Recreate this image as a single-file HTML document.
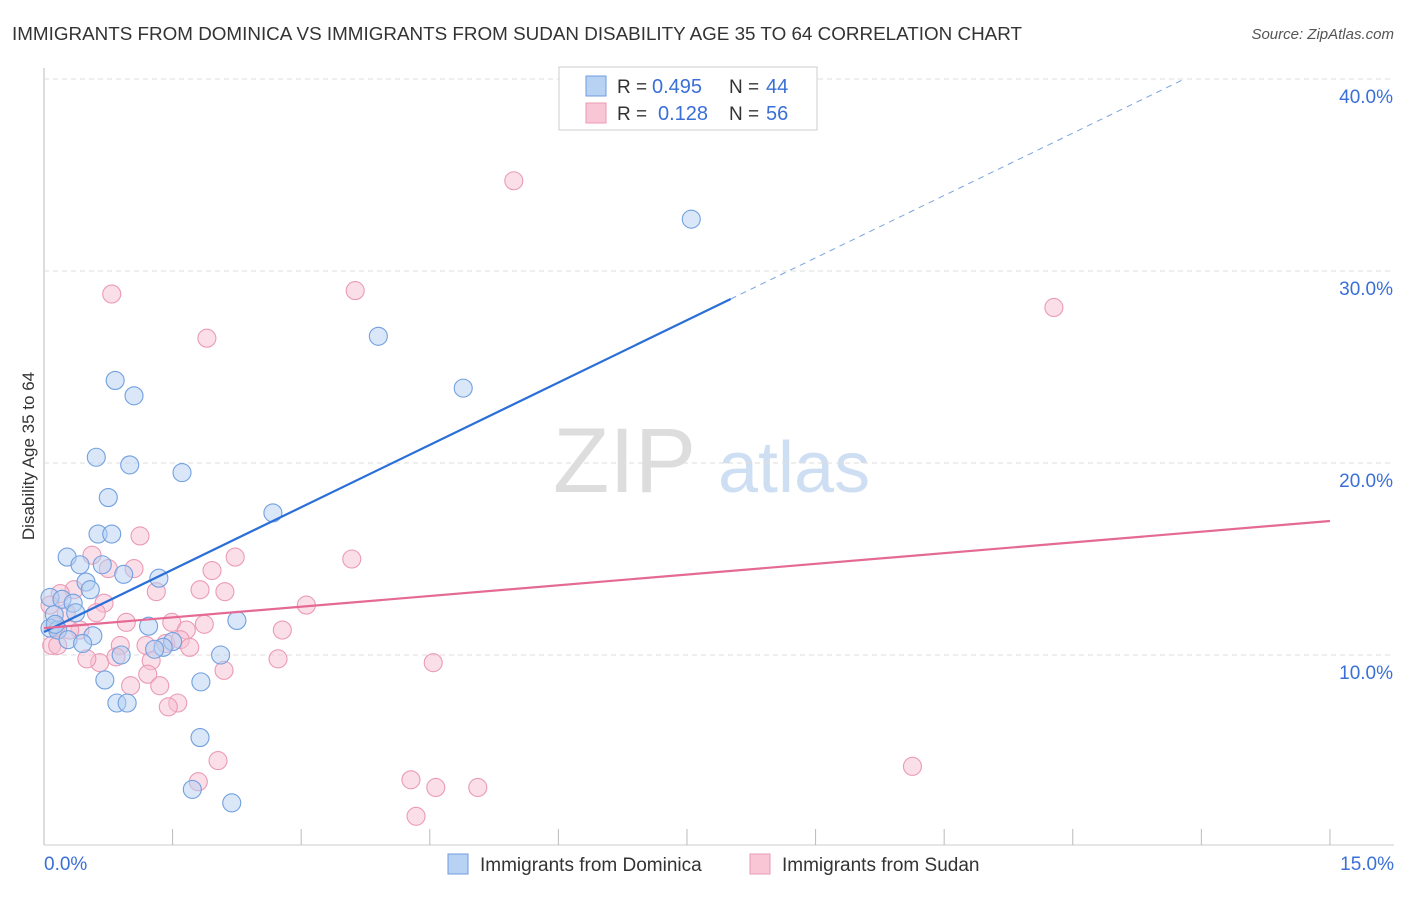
<!DOCTYPE html>
<html><head><meta charset="utf-8"><style>
body{margin:0;background:#fff;font-family:"Liberation Sans",sans-serif;}
svg text{font-family:"Liberation Sans",sans-serif;}
</style></head><body>
<svg id="c" width="1406" height="892" xmlns="http://www.w3.org/2000/svg">
<text x="12" y="40" font-size="18.5" fill="#333" textLength="1010" lengthAdjust="spacingAndGlyphs">IMMIGRANTS FROM DOMINICA VS IMMIGRANTS FROM SUDAN DISABILITY AGE 35 TO 64 CORRELATION CHART</text>
<text x="1394" y="39" font-size="15" fill="#555" font-style="italic" text-anchor="end">Source: ZipAtlas.com</text>
<text x="553" y="492" font-size="92" fill="#ddd" font-family="Liberation Serif">ZIP</text>
<text x="718" y="492" font-size="72" fill="#cfdff3">atlas</text>
<text transform="translate(34,456) rotate(-90)" font-size="17" fill="#333" text-anchor="middle">Disability Age 35 to 64</text>
<g id="grid"></g><g id="marks"></g>
<g>
<rect x="559" y="67" width="258" height="63" fill="#fff" stroke="#ccc"/>
<rect x="586" y="76" width="20" height="20" fill="#b8d2f3" stroke="#6f9ce0"/>
<rect x="586" y="103" width="20" height="20" fill="#f9c6d6" stroke="#e99ab4"/>
<text x="617" y="93" font-size="19" fill="#333">R =</text>
<text x="652" y="93" font-size="20" fill="#3a6fd8">0.495</text>
<text x="729" y="93" font-size="19" fill="#333">N =</text>
<text x="766" y="93" font-size="20" fill="#3a6fd8">44</text>
<text x="617" y="120" font-size="19" fill="#333">R =</text>
<text x="658" y="120" font-size="20" fill="#3a6fd8">0.128</text>
<text x="729" y="120" font-size="19" fill="#333">N =</text>
<text x="766" y="120" font-size="20" fill="#3a6fd8">56</text>
</g>
<g>
<rect x="448" y="854" width="20" height="20" fill="#b8d2f3" stroke="#6f9ce0"/>
<text x="480" y="871" font-size="19" fill="#333">Immigrants from Dominica</text>
<rect x="750" y="854" width="20" height="20" fill="#f9c6d6" stroke="#e99ab4"/>
<text x="782" y="871" font-size="19" fill="#333">Immigrants from Sudan</text>
</g>
<text x="44" y="870" font-size="19" fill="#3a6fd8">0.0%</text>
<text x="1394" y="870" font-size="19" fill="#3a6fd8" text-anchor="end">15.0%</text>
</svg>
<script>
const blueX=[7.55,3.90,4.89,0.83,1.05,0.61,1.00,1.61,0.75,2.67,0.63,0.79,0.27,0.42,0.68,0.93,1.34,0.49,0.54,0.07,0.21,0.34,0.37,0.12,2.25,1.22,0.07,0.16,0.57,0.28,0.45,1.50,1.39,1.29,0.90,2.06,0.71,1.83,0.85,0.97,1.82,1.73,2.19,0.13];
const blueY=[32.7,26.6,23.9,24.3,23.5,20.3,19.9,19.5,18.2,17.4,16.3,16.3,15.1,14.7,14.7,14.2,14.0,13.8,13.4,13.0,12.9,12.7,12.2,12.1,11.8,11.5,11.4,11.3,11.0,10.8,10.6,10.7,10.4,10.3,10.0,10.0,8.7,8.6,7.5,7.5,5.7,3.0,2.3,11.6];
const pinkX=[5.48,0.79,3.63,11.78,1.90,1.12,0.56,2.23,3.59,0.75,1.05,1.96,0.35,0.19,1.31,1.82,2.11,0.07,0.70,0.61,3.06,0.26,0.96,1.49,1.66,1.87,2.78,0.42,0.30,0.09,0.16,0.89,1.19,1.42,1.59,1.70,0.65,1.25,0.50,2.73,4.54,0.84,1.21,2.10,1.01,1.35,1.56,1.45,2.03,1.80,4.28,4.57,5.06,4.34,10.13,0.14];
const pinkY=[34.7,28.8,28.98,28.1,26.5,16.2,15.2,15.1,15.0,14.5,14.5,14.4,13.4,13.2,13.3,13.4,13.3,12.6,12.7,12.2,12.6,12.2,11.7,11.7,11.3,11.6,11.3,11.3,11.3,10.5,10.5,10.5,10.5,10.6,10.8,10.4,9.6,9.7,9.8,9.8,9.6,9.9,9.0,9.2,8.4,8.4,7.5,7.3,4.5,3.4,3.5,3.1,3.1,1.6,4.2,11.5];
const yTicks=[10,20,30,40];
const yTickLabels=["10.0%","20.0%","30.0%","40.0%"];
const xTicks=[0,1.5,3,4.5,6,7.5,9,10.5,12,13.5,15];
const blueFit=[11.2,2.165]; // intercept, slope
const blueFitSolidEnd=8.01;
const pinkFit=[11.4,0.372];
const NS='http://www.w3.org/2000/svg';
const X=v=>44+v*85.73, Y=v=>847-v*19.2;
function mk(t,a,p){const e=document.createElementNS(NS,t);for(const k in a)e.setAttribute(k,a[k]);p.appendChild(e);return e;}
const g=document.getElementById('grid'),m=document.getElementById('marks');
let ax=mk('line',{x1:44,y1:68,x2:44,y2:845,stroke:'#bbb'},g);


let bx=mk('line',{x1:44,y1:845,x2:1394,y2:845,stroke:'#ccc'},g);


yTicks.forEach((t,i)=>{
 let l=mk('line',{x1:44,y1:Y(t),x2:1394,y2:Y(t),stroke:'#ddd','stroke-dasharray':'5,4'},g);
 
 
 let tx=mk('text',{x:1393,y:Y(t)+24,'font-size':19,fill:'#3a6fd8','text-anchor':'end'},g);
 tx.textContent=yTickLabels[i];
 
 
});
xTicks.forEach(t=>{
 let l=mk('line',{x1:X(t),y1:829,x2:X(t),y2:845,stroke:'#bbb'},g);
 
 
});
function pts(xs,ys,fill,stroke,name){xs.forEach((x,i)=>{
 let c=mk('circle',{cx:X(x),cy:Y(ys[i]),r:9,fill:fill,'fill-opacity':0.5,stroke:stroke,'stroke-width':1.1},m);
 
 
});}
pts(pinkX,pinkY,'#f7bfd1','#eb9ab5','point-sudan');
pts(blueX,blueY,'#b3cff2','#72a0e0','point-dominica');
const bEndDash=(40.0-blueFit[0])/blueFit[1];
let l1=mk('line',{x1:X(0),y1:Y(blueFit[0]),x2:X(blueFitSolidEnd),y2:Y(blueFit[0]+blueFit[1]*blueFitSolidEnd),stroke:'#2a6fd8','stroke-width':2.2},m);


let l2=mk('line',{x1:X(blueFitSolidEnd),y1:Y(blueFit[0]+blueFit[1]*blueFitSolidEnd),x2:X(bEndDash),y2:Y(40.0),stroke:'#7aa3e0','stroke-width':1,'stroke-dasharray':'6,5'},m);


let l3=mk('line',{x1:X(0),y1:Y(pinkFit[0]),x2:X(15),y2:Y(pinkFit[0]+pinkFit[1]*15),stroke:'#e46a95','stroke-width':2.2},m);


</script>
</body></html>
